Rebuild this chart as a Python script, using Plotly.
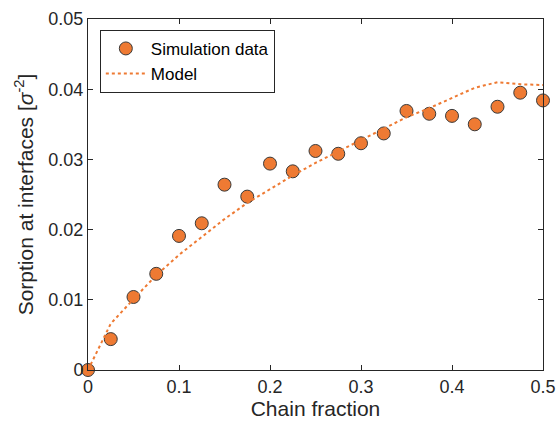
import plotly.graph_objects as go

sim_x = [0, 0.025, 0.05, 0.075, 0.1, 0.125, 0.15, 0.175, 0.2, 0.225, 0.25,
         0.275, 0.3, 0.325, 0.35, 0.375, 0.4, 0.425, 0.45, 0.475, 0.5]
sim_y = [0, 0.0044, 0.0104, 0.0137, 0.0191, 0.0209, 0.0264, 0.0247, 0.0294,
         0.0283, 0.0312, 0.0308, 0.0323, 0.0337, 0.0369, 0.0365, 0.0362,
         0.0350, 0.0375, 0.0395, 0.0384]

model_x = sim_x
model_y = [0, 0.0066, 0.0101, 0.0135, 0.0164, 0.0190, 0.0215, 0.0238, 0.0258,
           0.0277, 0.0295, 0.0311, 0.0327, 0.0343, 0.0360, 0.0373, 0.0388,
           0.0402, 0.0410, 0.0407, 0.0406]

x_ticks = [0, 0.1, 0.2, 0.3, 0.4, 0.5]
x_tick_labels = ["0", "0.1", "0.2", "0.3", "0.4", "0.5"]
y_ticks = [0, 0.01, 0.02, 0.03, 0.04, 0.05]
y_tick_labels = ["0", "0.01", "0.02", "0.03", "0.04", "0.05"]

orange = "#EE7A33"
dark = "#262626"
FONT = "Liberation Sans, Arial, sans-serif"

fig = go.Figure()
fig.add_trace(go.Scatter(
    x=sim_x, y=sim_y, mode="markers", name="Simulation data",
    marker=dict(size=13, color=orange, line=dict(color="#3a3a3a", width=1)),
    cliponaxis=False,
))
fig.add_trace(go.Scatter(
    x=model_x, y=model_y, mode="lines", name="Model",
    line=dict(color=orange, width=2, dash="dot"),
    cliponaxis=False,
))

axis_common = dict(
    showline=True, linecolor=dark, linewidth=1, mirror="ticks",
    ticks="inside", ticklen=5, tickcolor=dark, tickwidth=1,
    showgrid=False, zeroline=False, automargin=False,
    tickfont=dict(family=FONT, size=18, color=dark),
)

fig.update_layout(
    width=556, height=427,
    margin=dict(l=88, r=13, t=19, b=57),
    paper_bgcolor="white", plot_bgcolor="white",
    font=dict(family=FONT, color=dark),
    xaxis=dict(range=[0, 0.5], tickvals=x_ticks, ticktext=x_tick_labels,
               title=dict(text="Chain fraction", font=dict(family=FONT, size=21, color=dark), standoff=4),
               **axis_common),
    yaxis=dict(range=[0, 0.05], tickvals=y_ticks, ticktext=y_tick_labels,
               title=dict(text="Sorption at interfaces [<i>σ</i><sup>-2</sup>]",
                          font=dict(family=FONT, size=21, color=dark), standoff=9),
               **axis_common),
    legend=dict(x=0.026, y=0.969, xanchor="left", yanchor="top",
                bgcolor="white", bordercolor=dark, borderwidth=1,
                font=dict(family=FONT, size=17, color="black"), tracegroupgap=0,
                itemwidth=40),
    showlegend=True,
)

fig.write_html("out.html")
